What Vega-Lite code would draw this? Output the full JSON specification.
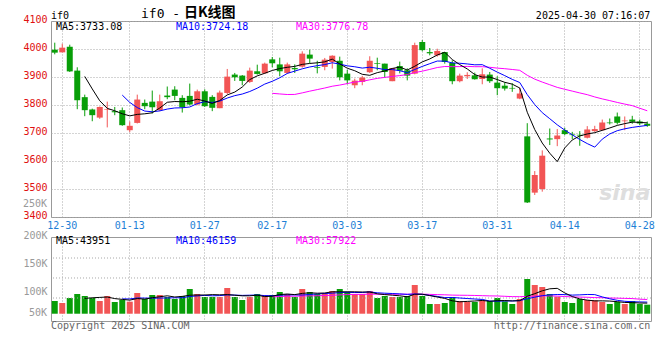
{
  "$schema": "https://vega.github.io/schema/vega-lite/v6.json",
  "background": "white",
  "padding": {"left": 22, "top": 5, "right": 4, "bottom": 2},
  "config": {
    "view": {"stroke": "#999999", "strokeWidth": 1},
    "axis": {"labelFont": "DejaVu Sans Mono", "labelFontSize": 10, "domain": false, "ticks": false, "title": null, "gridColor": "#a8a8a8", "gridDash": [1, 2], "gridWidth": 1, "labelFlush": false, "labelOverlap": false, "labelBound": false},
    "text": {"font": "DejaVu Sans Mono", "fontSize": 10, "align": "left", "baseline": "alphabetic"}
  },
  "data": {"values": [
    {"d":"12-27","o":3997.6,"h":4022.6,"l":3981,"c":3987,"v":85714},
    {"d":"12-30","o":3988,"h":4019,"l":3988,"c":4004.8,"v":82143},
    {"d":"12-31","o":4008,"h":4015.4,"l":3918,"c":3920,"v":91071},
    {"d":"01-02","o":3922.8,"h":3934.7,"l":3785,"c":3817,"v":98214},
    {"d":"01-03","o":3828,"h":3837,"l":3760,"c":3781.5,"v":94643},
    {"d":"01-06","o":3784,"h":3787,"l":3742,"c":3763.7,"v":91071},
    {"d":"01-07","o":3755,"h":3794.5,"l":3750.6,"c":3793,"v":85714},
    {"d":"01-08","o":3783,"h":3812,"l":3720,"c":3785,"v":94643},
    {"d":"01-09","o":3778,"h":3793,"l":3763.6,"c":3774,"v":83929},
    {"d":"01-10","o":3781.5,"h":3791,"l":3725.7,"c":3728,"v":87500},
    {"d":"01-13","o":3710,"h":3741,"l":3703,"c":3725.7,"v":84524},
    {"d":"01-14","o":3736,"h":3837,"l":3734,"c":3819.5,"v":100000},
    {"d":"01-15","o":3807.6,"h":3819.5,"l":3785,"c":3795.7,"v":89286},
    {"d":"01-16","o":3812,"h":3851.5,"l":3769.6,"c":3792,"v":96429},
    {"d":"01-17","o":3781.5,"h":3837,"l":3778,"c":3813.5,"v":96429},
    {"d":"01-20","o":3833.7,"h":3866,"l":3820.7,"c":3828,"v":92857},
    {"d":"01-21","o":3855,"h":3867,"l":3817,"c":3832.5,"v":89286},
    {"d":"01-22","o":3825.4,"h":3835,"l":3773,"c":3792,"v":94643},
    {"d":"01-23","o":3832.5,"h":3876.5,"l":3799,"c":3801.7,"v":107143},
    {"d":"01-24","o":3801.7,"h":3855,"l":3799,"c":3849,"v":98214},
    {"d":"01-27","o":3849,"h":3856,"l":3793,"c":3795.7,"v":92857},
    {"d":"02-05","o":3829,"h":3835,"l":3778,"c":3790,"v":92857},
    {"d":"02-06","o":3788.6,"h":3851.5,"l":3788.6,"c":3844.4,"v":92857},
    {"d":"02-07","o":3843,"h":3928.7,"l":3838.5,"c":3901.4,"v":108929},
    {"d":"02-10","o":3908.6,"h":3914.5,"l":3886,"c":3899,"v":92857},
    {"d":"02-11","o":3905,"h":3907,"l":3870.5,"c":3886,"v":87500},
    {"d":"02-12","o":3882.4,"h":3933.5,"l":3879,"c":3922.8,"v":92857},
    {"d":"02-13","o":3920.4,"h":3944,"l":3908.6,"c":3911,"v":98214},
    {"d":"02-14","o":3913.3,"h":3951.3,"l":3911,"c":3947.7,"v":96429},
    {"d":"02-17","o":3963,"h":3971.5,"l":3934.7,"c":3949,"v":96429},
    {"d":"02-18","o":3945,"h":3969,"l":3902.6,"c":3920.4,"v":101786},
    {"d":"02-19","o":3914.5,"h":3951.3,"l":3911,"c":3945,"v":98214},
    {"d":"02-20","o":3932,"h":3945,"l":3914.5,"c":3927.6,"v":92857},
    {"d":"02-21","o":3937,"h":3991.7,"l":3933.5,"c":3983.4,"v":107143},
    {"d":"02-24","o":3980,"h":3997.6,"l":3950,"c":3965.6,"v":101786},
    {"d":"02-25","o":3934.7,"h":3958,"l":3913,"c":3932,"v":98214},
    {"d":"02-26","o":3936,"h":3968,"l":3924,"c":3962,"v":100000},
    {"d":"02-27","o":3953.7,"h":3977.4,"l":3930,"c":3976,"v":103571},
    {"d":"02-28","o":3958,"h":3972.7,"l":3888,"c":3899,"v":107143},
    {"d":"03-03","o":3912,"h":3926,"l":3874,"c":3888,"v":101786},
    {"d":"03-04","o":3870.5,"h":3894,"l":3860,"c":3887,"v":98214},
    {"d":"03-05","o":3882.4,"h":3904,"l":3870.5,"c":3898,"v":98214},
    {"d":"03-06","o":3917,"h":3974,"l":3914.5,"c":3958,"v":103571},
    {"d":"03-07","o":3949,"h":3969,"l":3924,"c":3946.6,"v":91071},
    {"d":"03-10","o":3947.7,"h":3947.7,"l":3898,"c":3918,"v":94643},
    {"d":"03-11","o":3885,"h":3932,"l":3885,"c":3932,"v":92857},
    {"d":"03-12","o":3939,"h":3955,"l":3913,"c":3922.8,"v":92857},
    {"d":"03-13","o":3924,"h":3931,"l":3888,"c":3905,"v":94643},
    {"d":"03-14","o":3912,"h":4022.6,"l":3909.7,"c":4014,"v":114286},
    {"d":"03-17","o":4025,"h":4032,"l":3991.7,"c":3996,"v":94643},
    {"d":"03-18","o":3989,"h":4003.6,"l":3977.4,"c":3984.6,"v":80357},
    {"d":"03-19","o":3977.4,"h":4001,"l":3972.7,"c":3993,"v":80357},
    {"d":"03-20","o":3989,"h":3989,"l":3947.7,"c":3953.7,"v":82143},
    {"d":"03-21","o":3950,"h":3959.6,"l":3874,"c":3885,"v":92857},
    {"d":"03-24","o":3885,"h":3912,"l":3881,"c":3905,"v":85714},
    {"d":"03-25","o":3902.6,"h":3917,"l":3893,"c":3907.4,"v":83929},
    {"d":"03-26","o":3906,"h":3915.7,"l":3890.7,"c":3892,"v":83929},
    {"d":"03-27","o":3893,"h":3931,"l":3874,"c":3909.7,"v":86905},
    {"d":"03-28","o":3908.6,"h":3918,"l":3879,"c":3885,"v":85714},
    {"d":"03-31","o":3880,"h":3902.6,"l":3835,"c":3860,"v":91071},
    {"d":"04-01","o":3869,"h":3881,"l":3851.5,"c":3858.7,"v":85119},
    {"d":"04-02","o":3861,"h":3877.7,"l":3847,"c":3858.7,"v":80357},
    {"d":"04-03","o":3823,"h":3862,"l":3820.7,"c":3841,"v":89286},
    {"d":"04-07","o":3688,"h":3735,"l":3450,"c":3452,"v":125000},
    {"d":"04-08","o":3487,"h":3564,"l":3478.6,"c":3550,"v":114286},
    {"d":"04-09","o":3500,"h":3638,"l":3490.5,"c":3619,"v":110714},
    {"d":"04-10","o":3680.5,"h":3716,"l":3657,"c":3677,"v":98214},
    {"d":"04-11","o":3678,"h":3714,"l":3653,"c":3691,"v":93452},
    {"d":"04-14","o":3710,"h":3718.5,"l":3692.4,"c":3696,"v":83929},
    {"d":"04-15","o":3694.8,"h":3704,"l":3678,"c":3692.4,"v":82143},
    {"d":"04-16","o":3693.6,"h":3706.7,"l":3654.4,"c":3691,"v":89286},
    {"d":"04-17","o":3683,"h":3724.5,"l":3680.5,"c":3712.6,"v":87500},
    {"d":"04-18","o":3706.7,"h":3725.7,"l":3704,"c":3714,"v":86905},
    {"d":"04-21","o":3710,"h":3748,"l":3708,"c":3737.5,"v":83929},
    {"d":"04-22","o":3737.5,"h":3751.8,"l":3730.4,"c":3735,"v":80357},
    {"d":"04-23","o":3759,"h":3773,"l":3730.4,"c":3736.4,"v":83929},
    {"d":"04-24","o":3742,"h":3759,"l":3710,"c":3744.7,"v":80357},
    {"d":"04-25","o":3748,"h":3761.3,"l":3733,"c":3740,"v":85714},
    {"d":"04-28","o":3741,"h":3748,"l":3728,"c":3734,"v":80357},
    {"d":"04-29","o":3733,"h":3741,"l":3722,"c":3725.7,"v":79167}
  ]},
  "spacing": 20,
  "bounds": "flush",
  "vconcat": [
    {
      "width": 600,
      "height": 196,
      "layer": [
        {
          "mark": {"type": "rule", "strokeWidth": 1},
          "encoding": {
            "x": {"field": "d", "type": "ordinal",
              "scale": {"type": "band", "paddingInner": 0, "paddingOuter": 0, "domain": ["12-27","12-30","12-31","01-02","01-03","01-06","01-07","01-08","01-09","01-10","01-13","01-14","01-15","01-16","01-17","01-20","01-21","01-22","01-23","01-24","01-27","02-05","02-06","02-07","02-10","02-11","02-12","02-13","02-14","02-17","02-18","02-19","02-20","02-21","02-24","02-25","02-26","02-27","02-28","03-03","03-04","03-05","03-06","03-07","03-10","03-11","03-12","03-13","03-14","03-17","03-18","03-19","03-20","03-21","03-24","03-25","03-26","03-27","03-28","03-31","04-01","04-02","04-03","04-07","04-08","04-09","04-10","04-11","04-14","04-15","04-16","04-17","04-18","04-21","04-22","04-23","04-24","04-25","04-28","04-29"]},
              "axis": {"values": ["12-30","01-13","01-27","02-17","03-03","03-17","03-31","04-14","04-28"], "labelColor": "#1e7fd6", "labelAngle": 0, "labelPadding": 3, "grid": true, "bandPosition": 0.5, "labelOverlap": false}},
            "y": {"field": "l", "type": "quantitative",
              "scale": {"domain": [3400, 4100], "nice": false, "zero": false},
              "axis": {"values": [3400, 3500, 3600, 3700, 3800, 3900, 4000, 4100], "format": "d", "labelColor": "#e01010", "grid": true, "labelPadding": 4, "labelOffset": -2, "labelOverlap": false, "labelFlush": false}},
            "y2": {"field": "h"},
            "color": {"condition": {"test": "datum.c >= datum.o", "value": "#f25555"}, "value": "#089e08"}
          }
        },
        {
          "mark": {"type": "bar", "width": 6},
          "encoding": {
            "x": {"field": "d", "type": "ordinal"},
            "y": {"field": "o", "type": "quantitative", "axis": {"values": [3400, 3500, 3600, 3700, 3800, 3900, 4000, 4100], "format": "d", "labelColor": "#e01010", "grid": true, "labelPadding": 4, "labelOffset": -2, "labelOverlap": false, "labelFlush": false}},
            "y2": {"field": "c"},
            "color": {"condition": {"test": "datum.c >= datum.o", "value": "#f25555"}, "value": "#089e08"}
          }
        },
        {
          "transform": [{"window": [{"op": "mean", "field": "c", "as": "m"}, {"op": "count", "as": "n"}], "frame": [-29, 0]}, {"filter": "datum.n >= 30"}],
          "mark": {"type": "line", "color": "#ff00ff", "strokeWidth": 1},
          "encoding": {"x": {"field": "d", "type": "ordinal"}, "y": {"field": "m", "type": "quantitative", "axis": {"values": [3400, 3500, 3600, 3700, 3800, 3900, 4000, 4100], "format": "d", "labelColor": "#e01010", "grid": true, "labelPadding": 4, "labelOffset": -2, "labelOverlap": false, "labelFlush": false}}, "order": {"value": null}}
        },
        {
          "transform": [{"window": [{"op": "mean", "field": "c", "as": "m"}, {"op": "count", "as": "n"}], "frame": [-9, 0]}, {"filter": "datum.n >= 10"}],
          "mark": {"type": "line", "color": "#0000ff", "strokeWidth": 1},
          "encoding": {"x": {"field": "d", "type": "ordinal"}, "y": {"field": "m", "type": "quantitative", "axis": {"values": [3400, 3500, 3600, 3700, 3800, 3900, 4000, 4100], "format": "d", "labelColor": "#e01010", "grid": true, "labelPadding": 4, "labelOffset": -2, "labelOverlap": false, "labelFlush": false}}, "order": {"value": null}}
        },
        {
          "transform": [{"window": [{"op": "mean", "field": "c", "as": "m"}, {"op": "count", "as": "n"}], "frame": [-4, 0]}, {"filter": "datum.n >= 5"}],
          "mark": {"type": "line", "color": "#000000", "strokeWidth": 1},
          "encoding": {"x": {"field": "d", "type": "ordinal"}, "y": {"field": "m", "type": "quantitative", "axis": {"values": [3400, 3500, 3600, 3700, 3800, 3900, 4000, 4100], "format": "d", "labelColor": "#e01010", "grid": true, "labelPadding": 4, "labelOffset": -2, "labelOverlap": false, "labelFlush": false}}, "order": {"value": null}}
        },
        {
          "data": {"values": [{}]},
          "mark": {"type": "text", "text": "sina", "font": "DejaVu Sans", "fontSize": 22, "fontWeight": "bold", "fontStyle": "italic", "color": "#dedede", "align": "center"},
          "encoding": {"x": {"datum": "04-24", "type": "ordinal"}, "y": {"datum": 3462, "type": "quantitative", "axis": {"values": [3400, 3500, 3600, 3700, 3800, 3900, 4000, 4100], "format": "d", "labelColor": "#e01010", "grid": true, "labelPadding": 4, "labelOffset": -2, "labelOverlap": false, "labelFlush": false}}}
        },
        {
          "data": {"values": [{}]},
          "mark": {"type": "text", "text": "if0", "dx": -3.75, "color": "#000000"},
          "encoding": {"x": {"datum": "12-27", "type": "ordinal"}, "y": {"datum": 4108, "type": "quantitative", "axis": {"values": [3400, 3500, 3600, 3700, 3800, 3900, 4000, 4100], "format": "d", "labelColor": "#e01010", "grid": true, "labelPadding": 4, "labelOffset": -2, "labelOverlap": false, "labelFlush": false}}}
        },
        {
          "data": {"values": [{}]},
          "mark": {"type": "text", "text": "if0 -", "fontSize": 13, "dx": -3.75, "color": "#000000"},
          "encoding": {"x": {"datum": "01-15", "type": "ordinal"}, "y": {"datum": 4110, "type": "quantitative", "axis": {"values": [3400, 3500, 3600, 3700, 3800, 3900, 4000, 4100], "format": "d", "labelColor": "#e01010", "grid": true, "labelPadding": 4, "labelOffset": -2, "labelOverlap": false, "labelFlush": false}}}
        },
        {
          "data": {"values": [{}]},
          "mark": {"type": "text", "text": "日K线图", "font": "Noto Sans CJK SC", "fontSize": 14, "fontWeight": "bold", "dx": 1.75, "color": "#000000"},
          "encoding": {"x": {"datum": "01-22", "type": "ordinal"}, "y": {"datum": 4114, "type": "quantitative", "axis": {"values": [3400, 3500, 3600, 3700, 3800, 3900, 4000, 4100], "format": "d", "labelColor": "#e01010", "grid": true, "labelPadding": 4, "labelOffset": -2, "labelOverlap": false, "labelFlush": false}}}
        },
        {
          "data": {"values": [{}]},
          "mark": {"type": "text", "text": "2025-04-30 07:16:07", "align": "right", "dx": 3, "color": "#000000"},
          "encoding": {"x": {"datum": "04-29", "type": "ordinal"}, "y": {"datum": 4108, "type": "quantitative", "axis": {"values": [3400, 3500, 3600, 3700, 3800, 3900, 4000, 4100], "format": "d", "labelColor": "#e01010", "grid": true, "labelPadding": 4, "labelOffset": -2, "labelOverlap": false, "labelFlush": false}}}
        },
        {
          "data": {"values": [{}]},
          "mark": {"type": "text", "text": "MA5:3733.08", "dx": 1.25, "color": "#000000"},
          "encoding": {"x": {"datum": "12-27", "type": "ordinal"}, "y": {"datum": 4069.6, "type": "quantitative", "axis": {"values": [3400, 3500, 3600, 3700, 3800, 3900, 4000, 4100], "format": "d", "labelColor": "#e01010", "grid": true, "labelPadding": 4, "labelOffset": -2, "labelOverlap": false, "labelFlush": false}}}
        },
        {
          "data": {"values": [{}]},
          "mark": {"type": "text", "text": "MA10:3724.18", "dx": 1.25, "color": "#0000ff"},
          "encoding": {"x": {"datum": "01-21", "type": "ordinal"}, "y": {"datum": 4069.6, "type": "quantitative", "axis": {"values": [3400, 3500, 3600, 3700, 3800, 3900, 4000, 4100], "format": "d", "labelColor": "#e01010", "grid": true, "labelPadding": 4, "labelOffset": -2, "labelOverlap": false, "labelFlush": false}}}
        },
        {
          "data": {"values": [{}]},
          "mark": {"type": "text", "text": "MA30:3776.78", "dx": 1.25, "color": "#ff00ff"},
          "encoding": {"x": {"datum": "02-20", "type": "ordinal"}, "y": {"datum": 4069.6, "type": "quantitative", "axis": {"values": [3400, 3500, 3600, 3700, 3800, 3900, 4000, 4100], "format": "d", "labelColor": "#e01010", "grid": true, "labelPadding": 4, "labelOffset": -2, "labelOverlap": false, "labelFlush": false}}}
        }
      ]
    },
    {
      "width": 600,
      "height": 84,
      "layer": [
        {
          "mark": {"type": "bar", "width": 6},
          "encoding": {
            "x": {"field": "d", "type": "ordinal",
              "scale": {"type": "band", "paddingInner": 0, "paddingOuter": 0, "domain": ["12-27","12-30","12-31","01-02","01-03","01-06","01-07","01-08","01-09","01-10","01-13","01-14","01-15","01-16","01-17","01-20","01-21","01-22","01-23","01-24","01-27","02-05","02-06","02-07","02-10","02-11","02-12","02-13","02-14","02-17","02-18","02-19","02-20","02-21","02-24","02-25","02-26","02-27","02-28","03-03","03-04","03-05","03-06","03-07","03-10","03-11","03-12","03-13","03-14","03-17","03-18","03-19","03-20","03-21","03-24","03-25","03-26","03-27","03-28","03-31","04-01","04-02","04-03","04-07","04-08","04-09","04-10","04-11","04-14","04-15","04-16","04-17","04-18","04-21","04-22","04-23","04-24","04-25","04-28","04-29"]},
              "axis": {"values": ["12-30","01-13","01-27","02-17","03-03","03-17","03-31","04-14","04-28"], "labels": false, "grid": true, "bandPosition": 0.5}},
            "y": {"field": "v", "type": "quantitative",
              "scale": {"domain": [50000, 200000], "nice": false, "zero": false},
              "axis": {"values": [100000, 150000, 200000], "labelExpr": "datum.value / 1000 + 'K'", "labelColor": "#999999", "grid": false, "labelPadding": 4, "labelOffset": -2, "labelOverlap": false, "labelFlush": false}},
            "y2": {"datum": 63000},
            "color": {"condition": {"test": "datum.c >= datum.o", "value": "#f25555"}, "value": "#089e08"}
          }
        },
        {"data": {"values": [{}]}, "mark": {"type": "rule", "color": "#a8a8a8", "strokeDash": [1, 2], "strokeWidth": 1}, "encoding": {"y": {"datum": 91071, "type": "quantitative", "axis": {"values": [100000, 150000, 200000], "labelExpr": "datum.value / 1000 + 'K'", "labelColor": "#999999", "grid": false, "labelPadding": 4, "labelOffset": -2, "labelOverlap": false, "labelFlush": false}}}},
        {"data": {"values": [{}]}, "mark": {"type": "rule", "color": "#a8a8a8", "strokeDash": [1, 2], "strokeWidth": 1}, "encoding": {"y": {"datum": 126786, "type": "quantitative", "axis": {"values": [100000, 150000, 200000], "labelExpr": "datum.value / 1000 + 'K'", "labelColor": "#999999", "grid": false, "labelPadding": 4, "labelOffset": -2, "labelOverlap": false, "labelFlush": false}}}},
        {"data": {"values": [{}]}, "mark": {"type": "rule", "color": "#a8a8a8", "strokeDash": [1, 2], "strokeWidth": 1}, "encoding": {"y": {"datum": 162500, "type": "quantitative", "axis": {"values": [100000, 150000, 200000], "labelExpr": "datum.value / 1000 + 'K'", "labelColor": "#999999", "grid": false, "labelPadding": 4, "labelOffset": -2, "labelOverlap": false, "labelFlush": false}}}},
        {
          "transform": [{"window": [{"op": "mean", "field": "v", "as": "m"}, {"op": "count", "as": "n"}], "frame": [-29, 0]}, {"filter": "datum.n >= 30"}],
          "mark": {"type": "line", "color": "#ff00ff", "strokeWidth": 1},
          "encoding": {"x": {"field": "d", "type": "ordinal"}, "y": {"field": "m", "type": "quantitative", "axis": {"values": [100000, 150000, 200000], "labelExpr": "datum.value / 1000 + 'K'", "labelColor": "#999999", "grid": false, "labelPadding": 4, "labelOffset": -2, "labelOverlap": false, "labelFlush": false}}, "order": {"value": null}}
        },
        {
          "transform": [{"window": [{"op": "mean", "field": "v", "as": "m"}, {"op": "count", "as": "n"}], "frame": [-9, 0]}, {"filter": "datum.n >= 10"}],
          "mark": {"type": "line", "color": "#0000ff", "strokeWidth": 1},
          "encoding": {"x": {"field": "d", "type": "ordinal"}, "y": {"field": "m", "type": "quantitative", "axis": {"values": [100000, 150000, 200000], "labelExpr": "datum.value / 1000 + 'K'", "labelColor": "#999999", "grid": false, "labelPadding": 4, "labelOffset": -2, "labelOverlap": false, "labelFlush": false}}, "order": {"value": null}}
        },
        {
          "transform": [{"window": [{"op": "mean", "field": "v", "as": "m"}, {"op": "count", "as": "n"}], "frame": [-4, 0]}, {"filter": "datum.n >= 5"}],
          "mark": {"type": "line", "color": "#000000", "strokeWidth": 1},
          "encoding": {"x": {"field": "d", "type": "ordinal"}, "y": {"field": "m", "type": "quantitative", "axis": {"values": [100000, 150000, 200000], "labelExpr": "datum.value / 1000 + 'K'", "labelColor": "#999999", "grid": false, "labelPadding": 4, "labelOffset": -2, "labelOverlap": false, "labelFlush": false}}, "order": {"value": null}}
        },
        {
          "data": {"values": [{}]},
          "mark": {"type": "text", "text": "MA5:43951", "dx": 1.25, "color": "#000000"},
          "encoding": {"x": {"datum": "12-27", "type": "ordinal"}, "y": {"datum": 186786, "type": "quantitative", "axis": {"values": [100000, 150000, 200000], "labelExpr": "datum.value / 1000 + 'K'", "labelColor": "#999999", "grid": false, "labelPadding": 4, "labelOffset": -2, "labelOverlap": false, "labelFlush": false}}}
        },
        {
          "data": {"values": [{}]},
          "mark": {"type": "text", "text": "MA10:46159", "dx": 1.25, "color": "#0000ff"},
          "encoding": {"x": {"datum": "01-21", "type": "ordinal"}, "y": {"datum": 186786, "type": "quantitative", "axis": {"values": [100000, 150000, 200000], "labelExpr": "datum.value / 1000 + 'K'", "labelColor": "#999999", "grid": false, "labelPadding": 4, "labelOffset": -2, "labelOverlap": false, "labelFlush": false}}}
        },
        {
          "data": {"values": [{}]},
          "mark": {"type": "text", "text": "MA30:57922", "dx": 1.25, "color": "#ff00ff"},
          "encoding": {"x": {"datum": "02-20", "type": "ordinal"}, "y": {"datum": 186786, "type": "quantitative", "axis": {"values": [100000, 150000, 200000], "labelExpr": "datum.value / 1000 + 'K'", "labelColor": "#999999", "grid": false, "labelPadding": 4, "labelOffset": -2, "labelOverlap": false, "labelFlush": false}}}
        },
        {
          "data": {"values": [{}]},
          "mark": {"type": "text", "text": "250K", "align": "right", "baseline": "middle", "dx": -7.75, "color": "#999999"},
          "encoding": {"x": {"datum": "12-27", "type": "ordinal"}, "y": {"datum": 259286, "type": "quantitative", "axis": {"values": [100000, 150000, 200000], "labelExpr": "datum.value / 1000 + 'K'", "labelColor": "#999999", "grid": false, "labelPadding": 4, "labelOffset": -2, "labelOverlap": false, "labelFlush": false}}}
        },
        {
          "data": {"values": [{}]},
          "mark": {"type": "text", "text": "50K", "align": "right", "baseline": "middle", "dx": -7.75, "color": "#999999"},
          "encoding": {"x": {"datum": "12-27", "type": "ordinal"}, "y": {"datum": 64600, "type": "quantitative", "axis": {"values": [100000, 150000, 200000], "labelExpr": "datum.value / 1000 + 'K'", "labelColor": "#999999", "grid": false, "labelPadding": 4, "labelOffset": -2, "labelOverlap": false, "labelFlush": false}}}
        },
        {
          "data": {"values": [{}]},
          "mark": {"type": "text", "text": "Copyright 2025 SINA.COM", "dx": -3.75, "color": "#666666"},
          "encoding": {"x": {"datum": "12-27", "type": "ordinal"}, "y": {"datum": 36071, "type": "quantitative", "axis": {"values": [100000, 150000, 200000], "labelExpr": "datum.value / 1000 + 'K'", "labelColor": "#999999", "grid": false, "labelPadding": 4, "labelOffset": -2, "labelOverlap": false, "labelFlush": false}}}
        },
        {
          "data": {"values": [{}]},
          "mark": {"type": "text", "text": "http://finance.sina.com.cn", "align": "right", "dx": 3, "color": "#666666"},
          "encoding": {"x": {"datum": "04-29", "type": "ordinal"}, "y": {"datum": 36071, "type": "quantitative", "axis": {"values": [100000, 150000, 200000], "labelExpr": "datum.value / 1000 + 'K'", "labelColor": "#999999", "grid": false, "labelPadding": 4, "labelOffset": -2, "labelOverlap": false, "labelFlush": false}}}
        }
      ]
    }
  ]
}
